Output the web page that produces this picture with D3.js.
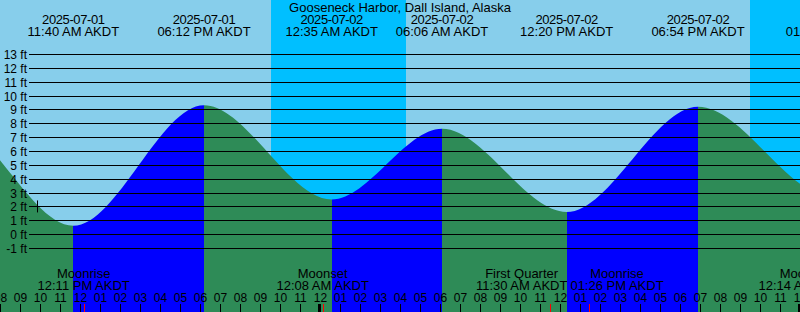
<!DOCTYPE html>
<html>
<head>
<meta charset="utf-8">
<script src="https://cdn.jsdelivr.net/npm/d3@7/dist/d3.min.js"></script>
<style>
  html, body { margin: 0; padding: 0; background: #fff; }
  svg { display: block; }
  text { font-family: "Liberation Sans", Arial, sans-serif; font-size: 13px; fill: #000; }
  text.level, text.hour { font-size: 12px; }
  text.date { letter-spacing: -0.4px; }
</style>
</head>
<body>
<div id="chart"></div>
<script>
// tide extremes (AKDT, parsed as plain clock times)
// first and last ones lie outside the window, they only shape the curve ends
var tideTimes = ["2025-06-30 23:30", "2025-07-01 05:22", "2025-07-01 11:40", "2025-07-01 18:12", "2025-07-02 00:35",
                 "2025-07-02 06:06", "2025-07-02 12:20", "2025-07-02 18:54", "2025-07-03 01:36", "2025-07-03 07:40"];
var tideHeights = [2.2, 8.2, 0.6, 9.3, 2.5, 7.6, 1.6, 9.2, 2.7, 7.2];

// night shading
var nightStart = ["2025-07-01 21:33", "2025-07-02 21:30"];
var nightEnd   = ["2025-07-02 04:18", "2025-07-03 04:18"];

// moon events
var moonTimes  = ["2025-07-01 12:11", "2025-07-02 00:08", "2025-07-02 11:30", "2025-07-02 13:26", "2025-07-03 00:14"];
var moonEvents = ["Moonrise", "Moonset", "First Quarter", "Moonrise", "Moonset"];

// height levels drawn as lines
var levels = [-1, 0, 1, 2, 3, 4, 5, 6, 7, 8, 9, 10, 11, 12, 13];

// small mark on the left
var markTime = "2025-07-01 09:51";
var markLevel = 2;

var title = "Gooseneck Harbor, Dall Island, Alaska";
var tz = "AKDT";

var width = 800, height = 312;
var parse = d3.utcParse("%Y-%m-%d %H:%M");
var fmtDate = d3.utcFormat("%Y-%m-%d");
var fmtTime = d3.utcFormat("%I:%M %p");
var fmtHour = d3.utcFormat("%I");

var t0 = parse("2025-07-01 08:00"), t1 = parse("2025-07-03 00:00");
var x = d3.scaleUtc().domain([t0, t1]).range([0, 800]);
var y = d3.scaleLinear().domain([-1, 13]).range([248, 54]);

var tides = tideTimes.map(function(t, i) { return {t: parse(t), h: tideHeights[i]}; });

var svg = d3.select("#chart").append("svg")
  .attr("width", width).attr("height", height);

// day background
svg.append("rect").attr("x", 0).attr("y", 0).attr("width", width).attr("height", height)
  .attr("fill", "#87ceeb");

// night
svg.selectAll("rect.night").data(nightStart).enter().append("rect")
  .attr("class", "night")
  .attr("x", function(d) { return Math.round(x(parse(d))); })
  .attr("y", 0)
  .attr("width", function(d, i) { return Math.round(x(parse(nightEnd[i]))) - Math.round(x(parse(d))); })
  .attr("height", height)
  .attr("fill", "#00bfff");

// water: clip by the tide curve, colour rising / falling
var area = d3.area()
  .x(function(d) { return x(d.t); })
  .y0(height)
  .y1(function(d) { return y(d.h); })
  .curve(d3.curveMonotoneX);

svg.append("clipPath").attr("id", "water")
  .append("path").attr("d", area(tides));

var segs = d3.pairs(tides);
svg.append("g").attr("clip-path", "url(#water)")
  .selectAll("rect").data(segs).enter().append("rect")
  .attr("x", function(d) { return Math.round(x(d[0].t)); })
  .attr("y", 0)
  .attr("width", function(d) { return Math.round(x(d[1].t)) - Math.round(x(d[0].t)); })
  .attr("height", height)
  .attr("fill", function(d) { return d[1].h > d[0].h ? "#0000ff" : "#2e8b57"; });

// level lines
svg.selectAll("line.level").data(levels).enter().append("line")
  .attr("class", "level")
  .attr("x1", 29).attr("x2", width)
  .attr("y1", function(d) { return Math.round(y(d)) + 0.5; })
  .attr("y2", function(d) { return Math.round(y(d)) + 0.5; })
  .attr("stroke", "#000").attr("stroke-width", 1);

svg.selectAll("text.level").data(levels).enter().append("text")
  .attr("class", "level")
  .attr("x", 27)
  .attr("y", function(d) { return Math.round(y(d)) + 4.5; })
  .attr("text-anchor", "end")
  .text(function(d) { return d + " ft"; });

// mark
svg.append("line")
  .attr("x1", Math.round(x(parse(markTime))) + 0.5).attr("x2", Math.round(x(parse(markTime))) + 0.5)
  .attr("y1", y(markLevel) - 6).attr("y2", y(markLevel) + 6)
  .attr("stroke", "#000");

// title
svg.append("text").attr("x", width / 2).attr("y", 12)
  .attr("text-anchor", "middle")
  .text(title);

// push overlapping label groups apart (both sides move)
function spread(groups) {
  var items = [];
  groups.each(function(d) {
    var w = 0;
    d3.select(this).selectAll("text").each(function() { w = Math.max(w, this.getComputedTextLength()); });
    items.push({node: this, c: x(d.t), w: w});
  });
  items.sort(function(a, b) { return a.c - b.c; });
  for (var i = 1; i < items.length; i++) {
    var a = items[i - 1], b = items[i];
    var need = (a.w + b.w) / 2 + 3 - (b.c - a.c);
    if (need > 0) { a.c -= need / 2; b.c += need / 2; }
  }
  items.forEach(function(it) { d3.select(it.node).attr("transform", "translate(" + it.c + ",0)"); });
}

// tide labels at top (only real highs / lows)
var tl = svg.selectAll("g.tide").data(tides.slice(1, -1)).enter().append("g")
  .attr("class", "tide");
tl.append("text").attr("class", "date").attr("y", 24).attr("text-anchor", "middle")
  .text(function(d) { return fmtDate(d.t); });
tl.append("text").attr("y", 36).attr("text-anchor", "middle")
  .text(function(d) { return fmtTime(d.t) + " " + tz; });
spread(tl);

// hour ticks
var hours = d3.utcHour.range(t0, d3.utcHour.offset(t1, 1));
svg.selectAll("rect.tick").data(hours).enter().append("rect")
  .attr("class", "tick")
  .attr("x", function(d) { return d.getUTCHours() === 0 ? Math.round(x(d)) - 2 : Math.round(x(d)); })
  .attr("y", 304)
  .attr("width", function(d) { return d.getUTCHours() === 0 ? 3 : 1; })
  .attr("height", 8)
  .attr("fill", "#000");

svg.selectAll("text.hour").data(hours).enter().append("text")
  .attr("class", "hour")
  .attr("x", function(d) { return Math.round(x(d)) + 0.5; })
  .attr("y", 302)
  .attr("text-anchor", "middle")
  .text(function(d) { return fmtHour(d); });

// moon events
var moon = moonTimes.map(function(t, i) { return {t: parse(t), name: moonEvents[i]}; });
svg.selectAll("rect.moon").data(moon).enter().append("rect")
  .attr("class", "moon")
  .attr("x", function(d) { return Math.round(x(d.t)); })
  .attr("y", 304).attr("width", 1).attr("height", 8)
  .attr("fill", "#ff0000");

var ml = svg.selectAll("g.moon").data(moon).enter().append("g")
  .attr("class", "moon");
ml.append("text").attr("y", 278).attr("text-anchor", "middle")
  .text(function(d) { return d.name; });
ml.append("text").attr("y", 290).attr("text-anchor", "middle")
  .text(function(d) { return fmtTime(d.t) + " " + tz; });
spread(ml);
</script>
</body>
</html>
